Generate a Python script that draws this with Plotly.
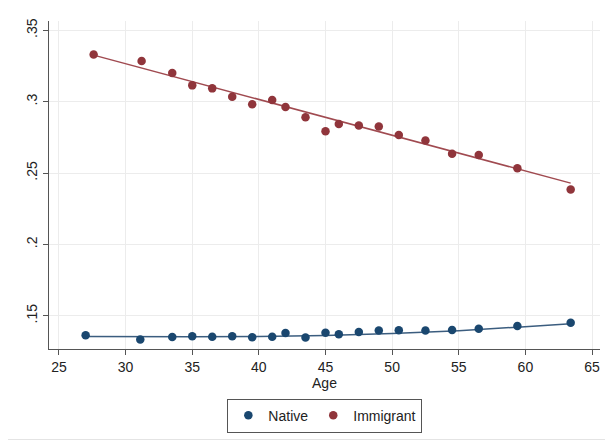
import plotly.graph_objects as go

# Data
native_age = [27.0, 31.1, 33.5, 35.0, 36.5, 38.0, 39.5, 41.0, 42.0, 43.5, 45.0, 46.0,
              47.5, 49.0, 50.5, 52.5, 54.5, 56.5, 59.4, 63.4]
native_val = [0.1363, 0.1334, 0.1351, 0.1357, 0.1353, 0.1356, 0.1349, 0.1353, 0.1379, 0.1347,
              0.1381, 0.1370, 0.1386, 0.1397, 0.1398, 0.1396, 0.1400, 0.1409, 0.1428, 0.1451]
imm_age = [27.6, 31.2, 33.5, 35.0, 36.5, 38.0, 39.5, 41.0, 42.0, 43.5, 45.0, 46.0,
           47.5, 49.0, 50.5, 52.5, 54.5, 56.5, 59.4, 63.4]
imm_val = [0.3330, 0.3284, 0.3200, 0.3114, 0.3093, 0.3035, 0.2981, 0.3012, 0.2963, 0.2891,
           0.2793, 0.2844, 0.2833, 0.2826, 0.2767, 0.2728, 0.2635, 0.2626, 0.2533, 0.2384]
# Fitted lines
native_fit_age = [27.0, 31.0, 35.0, 40.0, 45.0, 50.0, 55.0, 59.4, 63.4]
native_fit_val = [0.1355, 0.1352, 0.1352, 0.1355, 0.1362, 0.1375, 0.1395, 0.1420, 0.1444]
imm_fit_age = [27.6, 63.4]
imm_fit_val = [0.3326, 0.2429]

x_ticks = [25, 30, 35, 40, 45, 50, 55, 60, 65]
y_ticks = [0.15, 0.2, 0.25, 0.3, 0.35]
y_ticktext = [".15", ".2", ".25", ".3", ".35"]

NAVY = "#1a476f"
MAROON = "#90353b"

fig = go.Figure()
fig.add_trace(go.Scatter(x=native_fit_age, y=native_fit_val, mode="lines",
                         line=dict(color="#3b5d7f", width=1.5), showlegend=False, hoverinfo="skip"))
fig.add_trace(go.Scatter(x=imm_fit_age, y=imm_fit_val, mode="lines",
                         line=dict(color="#a04a50", width=1.5), showlegend=False, hoverinfo="skip"))
fig.add_trace(go.Scatter(x=native_age, y=native_val, mode="markers", name="Native",
                         marker=dict(color=NAVY, size=8.5)))
fig.add_trace(go.Scatter(x=imm_age, y=imm_val, mode="markers", name="Immigrant",
                         marker=dict(color=MAROON, size=8.5)))

# page offset (default body margin) compensation
OFF = 8
L, T, PW, PH = 49.3 - OFF, 20.7 - OFF, 550.7, 328.6
W, H = 613 - OFF, 445 - OFF

def px_x(p):
    return (p - OFF - L) / PW

def px_y(p):
    return (T + PH - (p - OFF)) / PH

fig.add_shape(type="rect", xref="paper", yref="paper",
              x0=px_x(4), x1=px_x(609), y0=px_y(440), y1=px_y(5),
              line=dict(color="#e4e4e4", width=1), fillcolor="rgba(0,0,0,0)", layer="below")

fig.update_layout(
    width=W, height=H,
    margin=dict(l=L, r=W - L - PW, t=T, b=H - T - PH, autoexpand=False),
    paper_bgcolor="white", plot_bgcolor="white",
    font=dict(family="Liberation Sans, Arial, Helvetica, sans-serif", size=14, color="#222222"),
    showlegend=True,
    legend=dict(orientation="h", x=px_x(325), xanchor="center", y=px_y(399), yanchor="top",
                bordercolor="#555555", borderwidth=1, font=dict(size=14),
                itemwidth=30, tracegroupgap=0),
    xaxis=dict(range=[24.25, 65.6], tickvals=x_ticks, showgrid=True, gridcolor="#ececec",
               gridwidth=1, zeroline=False, showline=True, linecolor="#555555", linewidth=1.2,
               ticks="outside", ticklen=5, tickcolor="#555555", tickfont=dict(size=14),
               automargin=False,
               title=dict(text="Age", font=dict(size=14), standoff=2)),
    yaxis=dict(range=[0.1267, 0.3565], tickvals=y_ticks, ticktext=y_ticktext, showgrid=True,
               gridcolor="#ececec", gridwidth=1, zeroline=False, showline=True,
               linecolor="#555555", linewidth=1.2, ticks="outside", ticklen=5,
               automargin=False,
               tickcolor="#555555", tickangle=-90, tickfont=dict(size=14)),
)

fig.write_html("out.html")
